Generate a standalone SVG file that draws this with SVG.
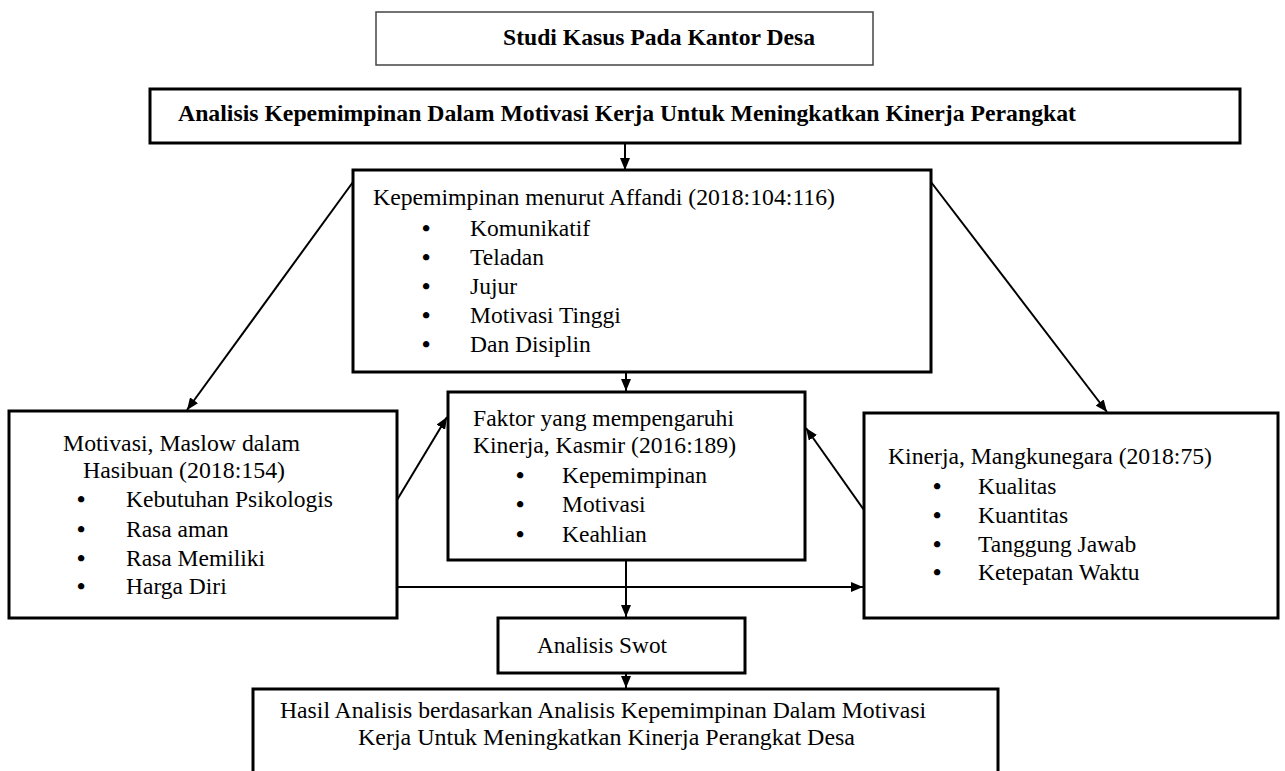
<svg xmlns="http://www.w3.org/2000/svg" width="1285" height="771" viewBox="0 0 1285 771" font-family="'Liberation Serif','Times New Roman',serif">
<defs>
<marker id="arr" markerUnits="userSpaceOnUse" markerWidth="12" markerHeight="10" refX="12" refY="5" orient="auto">
<path d="M0,0 L12,5 L0,10 z" fill="#000"/>
</marker>
<style>
.box{fill:#fff;stroke:#000;stroke-width:3}
.thin{fill:#fff;stroke:#444;stroke-width:1.5}
text{font-family:'Liberation Serif','Times New Roman',serif;font-size:23.5px;fill:#000}
.b{font-weight:bold;font-size:24px}
.bul{text-anchor:middle;font-weight:bold}
.con{stroke:#000;stroke-width:2;fill:none;marker-end:url(#arr)}
</style>
</defs>
<rect width="1285" height="771" fill="#fff"/>

<g id="connectors">
<line class="con" x1="625" y1="143" x2="625" y2="170"/>
<line class="con" x1="353" y1="182" x2="187" y2="410"/>
<line class="con" x1="931" y1="182" x2="1107" y2="412"/>
<line class="con" x1="626" y1="372" x2="626" y2="391"/>
<line class="con" x1="397" y1="500" x2="447" y2="417"/>
<line class="con" x1="864" y1="510" x2="806" y2="428"/>
<line class="con" x1="397" y1="587" x2="863" y2="587"/>
<line class="con" x1="626" y1="560" x2="626" y2="617"/>
<line class="con" x1="626" y1="673" x2="626" y2="688"/>
</g>

<g id="studi-kasus">
<rect class="thin" x="376" y="12" width="497" height="53"/>
<text class="b" x="503" y="45" textLength="312" lengthAdjust="spacingAndGlyphs">Studi Kasus Pada Kantor Desa</text>
</g>

<g id="judul">
<rect class="box" x="150" y="89" width="1090" height="54"/>
<text class="b" x="178" y="121" textLength="898" lengthAdjust="spacingAndGlyphs">Analisis Kepemimpinan Dalam Motivasi Kerja Untuk Meningkatkan Kinerja Perangkat</text>
</g>

<g id="kepemimpinan">
<rect class="box" x="353" y="170" width="578" height="202"/>
<text x="373" y="205" textLength="462" lengthAdjust="spacingAndGlyphs">Kepemimpinan menurut Affandi (2018:104:116)</text>
<text class="bul" x="426" y="236">•</text><text x="470" y="236">Komunikatif</text>
<text class="bul" x="426" y="265">•</text><text x="470" y="265">Teladan</text>
<text class="bul" x="426" y="294">•</text><text x="470" y="294">Jujur</text>
<text class="bul" x="426" y="323">•</text><text x="470" y="323">Motivasi Tinggi</text>
<text class="bul" x="426" y="352">•</text><text x="470" y="352">Dan Disiplin</text>
</g>

<g id="motivasi">
<rect class="box" x="9" y="411" width="388" height="207"/>
<text x="63" y="451" textLength="237" lengthAdjust="spacingAndGlyphs">Motivasi, Maslow dalam</text>
<text x="83" y="478" textLength="202" lengthAdjust="spacingAndGlyphs">Hasibuan (2018:154)</text>
<text class="bul" x="81" y="507">•</text><text x="126" y="507">Kebutuhan Psikologis</text>
<text class="bul" x="81" y="537">•</text><text x="126" y="537">Rasa aman</text>
<text class="bul" x="81" y="566">•</text><text x="126" y="566">Rasa Memiliki</text>
<text class="bul" x="81" y="594">•</text><text x="126" y="594">Harga Diri</text>
</g>

<g id="faktor">
<rect class="box" x="448" y="392" width="357" height="168"/>
<text x="473" y="426" textLength="261" lengthAdjust="spacingAndGlyphs">Faktor yang mempengaruhi</text>
<text x="473" y="453" textLength="263" lengthAdjust="spacingAndGlyphs">Kinerja, Kasmir (2016:189)</text>
<text class="bul" x="520" y="483">•</text><text x="562" y="483">Kepemimpinan</text>
<text class="bul" x="520" y="512">•</text><text x="562" y="512">Motivasi</text>
<text class="bul" x="520" y="542">•</text><text x="562" y="542">Keahlian</text>
</g>

<g id="kinerja">
<rect class="box" x="864" y="413" width="414" height="205"/>
<text x="888" y="464" textLength="324" lengthAdjust="spacingAndGlyphs">Kinerja, Mangkunegara (2018:75)</text>
<text class="bul" x="937" y="494">•</text><text x="978" y="494">Kualitas</text>
<text class="bul" x="937" y="523">•</text><text x="978" y="523">Kuantitas</text>
<text class="bul" x="937" y="552">•</text><text x="978" y="552">Tanggung Jawab</text>
<text class="bul" x="937" y="580">•</text><text x="978" y="580">Ketepatan Waktu</text>
</g>

<g id="swot">
<rect class="box" x="498" y="618" width="247" height="55"/>
<text x="537" y="653" textLength="130" lengthAdjust="spacingAndGlyphs">Analisis Swot</text>
</g>

<g id="hasil">
<rect class="box" x="253" y="689" width="745" height="100"/>
<text x="280" y="718" textLength="646" lengthAdjust="spacingAndGlyphs">Hasil Analisis berdasarkan Analisis Kepemimpinan Dalam Motivasi</text>
<text x="358" y="745" textLength="497" lengthAdjust="spacingAndGlyphs">Kerja Untuk Meningkatkan Kinerja Perangkat Desa</text>
</g>
</svg>
